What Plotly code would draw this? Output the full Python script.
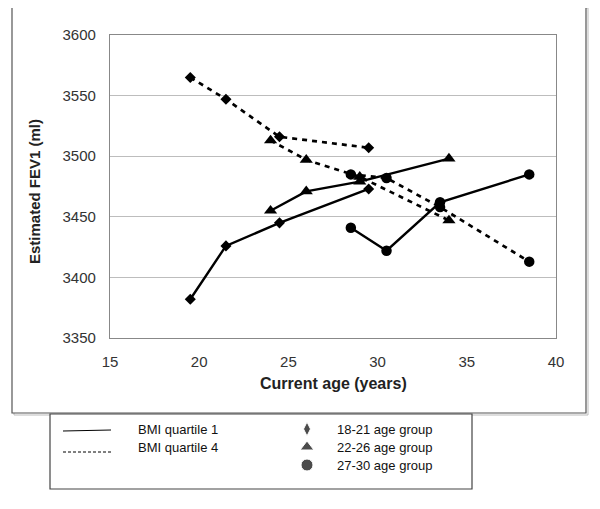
import plotly.graph_objects as go

# ---- data ----
ages_18_21 = [19.5, 21.5, 24.5, 29.5]
ages_22_26 = [24, 26, 29, 34]
ages_27_30 = [28.5, 30.5, 33.5, 38.5]

q1_18_21 = [3382, 3426, 3445, 3473]
q1_22_26 = [3455, 3471, 3479, 3498]
q1_27_30 = [3441, 3422, 3462, 3485]

q4_18_21 = [3565, 3547, 3516, 3507]
q4_22_26 = [3513, 3497, 3483, 3447]
q4_27_30 = [3485, 3482, 3458, 3413]

line_labels = ["BMI quartile 1", "BMI quartile 4"]
group_labels = ["18-21 age group", "22-26 age group", "27-30 age group"]

# page body has an 8px margin; lay out in window pixels and shift
OFF = 8
W, H = 600 - OFF, 509 - OFF
FONT = "Liberation Sans, Arial, sans-serif"

fig = go.Figure()

groups = [
    (ages_18_21, q1_18_21, q4_18_21, "diamond", 8.5),
    (ages_22_26, q1_22_26, q4_22_26, "triangle-up", 11.5),
    (ages_27_30, q1_27_30, q4_27_30, "circle", 10.5),
]
for ages, q1, q4, sym, sz in groups:
    fig.add_trace(go.Scatter(x=ages, y=q4, mode="lines+markers",
                             line=dict(color="black", width=2.7, dash="5px,5px"),
                             marker=dict(symbol=sym, size=sz, color="black"),
                             showlegend=False, hoverinfo="skip"))
    fig.add_trace(go.Scatter(x=ages, y=q1, mode="lines+markers",
                             line=dict(color="black", width=2.4),
                             marker=dict(symbol=sym, size=sz, color="black"),
                             showlegend=False, hoverinfo="skip"))

# legend markers on a pixel overlay axis (window pixel coordinates)
fig.add_trace(go.Scatter(x=[307, 307, 307], y=[429, 447, 465], mode="markers",
                         marker=dict(symbol=["diamond-tall", "triangle-up", "circle"],
                                     size=[10, 12, 12], color="black"),
                         xaxis="x2", yaxis="y2", showlegend=False, hoverinfo="skip",
                         cliponaxis=False))

px = lambda v: (v - OFF) / W
py = lambda v: 1 - (v - OFF) / H

shapes = [
    # outer frame shadow + frame
    dict(type="rect", xref="paper", yref="paper", x0=px(14), x1=px(588), y0=py(415), y1=py(8),
         line=dict(color="#bbbbbb", width=1), layer="below"),
    dict(type="rect", xref="paper", yref="paper", x0=px(12), x1=px(586), y0=py(413), y1=py(6),
         line=dict(color="#555555", width=1.2), fillcolor="white", layer="below"),
    # legend box
    dict(type="rect", xref="paper", yref="paper", x0=px(50), x1=px(472), y0=py(489), y1=py(414),
         line=dict(color="#444444", width=1.2), fillcolor="white", layer="below"),
    # legend lines
    dict(type="line", xref="paper", yref="paper", x0=px(63), x1=px(111), y0=py(431), y1=py(430),
         line=dict(color="black", width=1)),
    dict(type="line", xref="paper", yref="paper", x0=px(63), x1=px(111), y0=py(452), y1=py(452),
         line=dict(color="black", width=1, dash="3px,2px")),
]

annotations = []
for i, t in enumerate(line_labels):
    annotations.append(dict(text=t, x=px(136), y=py(429 + i * 18), xref="paper", yref="paper",
                            xanchor="left", yanchor="middle", showarrow=False,
                            font=dict(family=FONT, size=13, color="#111111")))
for i, t in enumerate(group_labels):
    annotations.append(dict(text=t, x=px(335), y=py(429 + i * 18), xref="paper", yref="paper",
                            xanchor="left", yanchor="middle", showarrow=False,
                            font=dict(family=FONT, size=13, color="#111111")))
annotations.append(dict(text="<b>Current age (years)</b>", x=px(333), y=py(383), xref="paper", yref="paper",
                        xanchor="center", yanchor="middle", showarrow=False,
                        font=dict(family=FONT, size=16, color="#222222")))
annotations.append(dict(text="<b>Estimated FEV1 (ml)</b>", x=px(35), y=py(192), xref="paper", yref="paper",
                        xanchor="center", yanchor="middle", showarrow=False, textangle=-90,
                        font=dict(family=FONT, size=15, color="#222222")))

fig.update_layout(
    width=W, height=H,
    margin=dict(l=0, r=0, t=0, b=0, autoexpand=False),
    paper_bgcolor="white", plot_bgcolor="rgba(0,0,0,0)",
    font=dict(family=FONT, color="#333333"),
    shapes=shapes, annotations=annotations,
    xaxis=dict(domain=[px(110), px(556)], range=[15, 40], tickvals=[15, 20, 25, 30, 35, 40],
               showgrid=False, zeroline=False, showline=True, mirror=True,
               linecolor="#888888", linewidth=1.2, ticks="outside", ticklen=10,
               tickcolor="rgba(0,0,0,0)", tickfont=dict(size=15, color="#333333"),
               anchor="y", automargin=False),
    yaxis=dict(domain=[py(338), py(35)], range=[3350, 3600], tickvals=[3350, 3400, 3450, 3500, 3550, 3600],
               showgrid=True, gridcolor="#bdbdbd", gridwidth=1.2, zeroline=False,
               showline=True, mirror=True, linecolor="#888888", linewidth=1.2,
               ticks="outside", ticklen=10, tickcolor="rgba(0,0,0,0)",
               tickfont=dict(size=15, color="#333333"), anchor="x", automargin=False),
    xaxis2=dict(domain=[0, 1], range=[OFF, 600], visible=False, anchor="y2", fixedrange=True,
                automargin=False),
    yaxis2=dict(domain=[0, 1], range=[509, OFF], visible=False, anchor="x2", fixedrange=True,
                automargin=False),
)

fig.write_html("out.html")
